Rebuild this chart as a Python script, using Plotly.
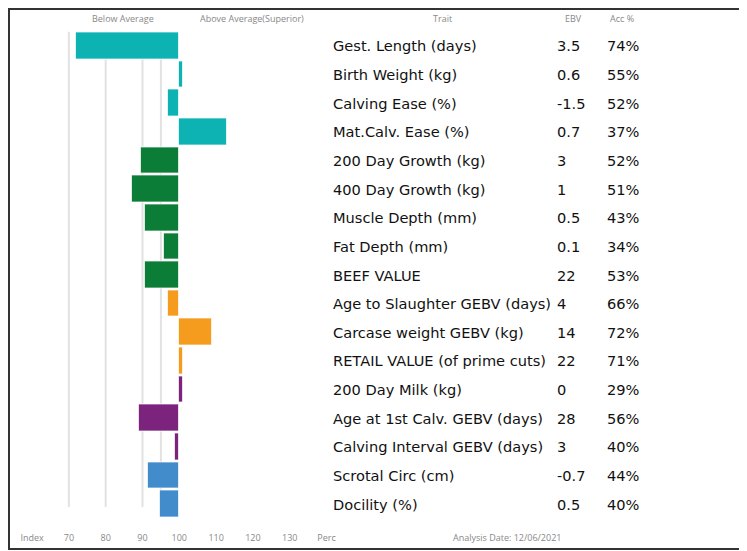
import plotly.graph_objects as go

# the page places the figure 8px from the top-left corner of the window
OFF = 8
W, H = 747 - OFF, 551 - OFF

traits = [
    "Gest. Length (days)", "Birth Weight (kg)", "Calving Ease (%)", "Mat.Calv. Ease (%)",
    "200 Day Growth (kg)", "400 Day Growth (kg)", "Muscle Depth (mm)", "Fat Depth (mm)",
    "BEEF VALUE", "Age to Slaughter GEBV (days)", "Carcase weight GEBV (kg)",
    "RETAIL VALUE (of prime cuts)", "200 Day Milk (kg)", "Age at 1st Calv. GEBV (days)",
    "Calving Interval GEBV (days)", "Scrotal Circ (cm)", "Docility (%)",
]
ebv = ["3.5", "0.6", "-1.5", "0.7", "3", "1", "0.5", "0.1", "22", "4", "14", "22", "0", "28", "3", "-0.7", "0.5"]
acc = ["74%", "55%", "52%", "37%", "52%", "51%", "43%", "34%", "53%", "66%", "72%", "71%", "29%", "56%", "40%", "44%", "40%"]
index_values = [71.8, 101.1, 96.8, 113.0, 89.6, 87.1, 90.6, 95.8, 90.6, 96.8, 108.9, 101.1, 101.1, 89.0, 98.9, 91.6, 94.8]
groups = ["calving"] * 4 + ["growth"] * 5 + ["carcase"] * 3 + ["fertility"] * 3 + ["other"] * 2
group_colors = {"calving": "#0DB3B3", "growth": "#0B7D36", "carcase": "#F59B1E",
                "fertility": "#7B237D", "other": "#438CCB"}
baseline = 100
grid_values = [70, 80, 90, 95]
tick_values = [60, 70, 80, 90, 100, 110, 120, 130, 140]
tick_labels = ["Index", "70", "80", "90", "100", "110", "120", "130", "Perc"]

rows = list(range(len(traits)))


def px(x):
    return (x - OFF) / W


def py(y):
    return 1 - (y - OFF) / H


px_per_unit = 3.68
center_px = 179.3
ax_left, ax_right = 10, 340
x_range = [baseline - (center_px - ax_left) / px_per_unit, baseline + (ax_right - center_px) / px_per_unit]
y_top, y_bot = 31.5, 518.5

fig = go.Figure()
fig.add_trace(go.Bar(
    y=rows, x=[v - baseline for v in index_values], base=baseline, orientation="h",
    marker=dict(color=[group_colors[g] for g in groups], line=dict(color="rgba(255,255,255,0.7)", width=1)),
    width=0.93, hoverinfo="skip",
))

shapes = []
for g in grid_values:
    shapes.append(dict(type="line", xref="x", yref="y", x0=g, x1=g, y0=-0.5, y1=16.1,
                       line=dict(color="#E2E2E2", width=2), layer="below"))
shapes.append(dict(type="rect", xref="paper", yref="paper", x0=px(9), x1=px(744),
                   y0=py(549), y1=py(9), line=dict(color="#333", width=2)))

ann = []
font_main = dict(family="DejaVu Sans", size=14.6, color="#111")
for i in rows:
    ann.append(dict(x=px(331), y=i, xref="paper", yref="y", text=traits[i], showarrow=False,
                    xanchor="left", font=font_main))
    ann.append(dict(x=px(555), y=i, xref="paper", yref="y", text=ebv[i], showarrow=False,
                    xanchor="left", font=font_main))
    ann.append(dict(x=px(605), y=i, xref="paper", yref="y", text=acc[i], showarrow=False,
                    xanchor="left", font=font_main))

font_small = dict(family="Open Sans", size=9, color="#888")
for txt, x in [("Below Average", 123), ("Above Average(Superior)", 252), ("Trait", 443),
               ("EBV", 573), ("Acc %", 622)]:
    ann.append(dict(x=px(x), y=py(19), xref="paper", yref="paper", text=txt, showarrow=False,
                    xanchor="center", yanchor="middle", font=font_small))
ann.append(dict(x=px(507), y=py(537), xref="paper", yref="paper", text="Analysis Date: 12/06/2021",
                showarrow=False, xanchor="center", yanchor="middle", font=font_small))

fig.update_layout(
    width=W, height=H, margin=dict(l=0, r=0, t=0, b=0),
    paper_bgcolor="white", plot_bgcolor="white", showlegend=False,
    shapes=shapes, annotations=ann, bargap=0,
    xaxis=dict(domain=[px(ax_left), px(ax_right)], range=x_range, showgrid=False, zeroline=False,
               showline=False, tickvals=tick_values, ticktext=tick_labels, ticks="outside",
               ticklen=11, tickcolor="rgba(0,0,0,0)", tickfont=dict(family="Open Sans", size=9, color="#888")),
    yaxis=dict(domain=[py(y_bot), py(y_top)], range=[16.5, -0.5], showgrid=False,
               zeroline=False, showticklabels=False, showline=False),
)

fig.write_html("out.html")
